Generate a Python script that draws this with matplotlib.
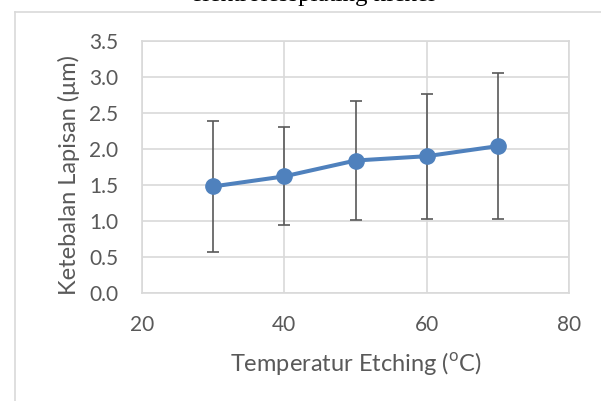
import numpy as np
import matplotlib
matplotlib.use("Agg")
import matplotlib.pyplot as plt
from matplotlib.lines import Line2D

# data
temperatur = [30, 40, 50, 60, 70]
ketebalan = [1.48, 1.62, 1.84, 1.90, 2.04]
std_dev = [0.91, 0.68, 0.82, 0.87, 1.01]
x_ticks = [20, 40, 60, 80]
y_ticks = [0.0, 0.5, 1.0, 1.5, 2.0, 2.5, 3.0, 3.5]

plt.rcParams['font.family'] = ['Lato', 'DejaVu Sans']
plt.rcParams['mathtext.fontset'] = 'custom'
plt.rcParams['mathtext.rm'] = 'Lato'

fig = plt.figure(figsize=(6.01, 4.01), dpi=100)

# outer chart frame (light gray), cut at right and bottom
fig.add_artist(Line2D([14.5 / 601, 14.5 / 601], [0, 1 - 11.5 / 401],
                      transform=fig.transFigure, color='#d9d9d9', lw=1.2))
fig.add_artist(Line2D([14.5 / 601, 1], [1 - 11.5 / 401, 1 - 11.5 / 401],
                      transform=fig.transFigure, color='#d9d9d9', lw=1.2))

# title, mostly cut off at the top edge like in the source image
fig.text(313 / 601, 1 - 1.5 / 401, 'elektrolessplating nickel',
         family='Liberation Serif', fontsize=18, ha='center', va='baseline',
         color='black')

ax = fig.add_axes([142 / 601, 1 - 293 / 401, 427 / 601, 252 / 401])

ax.errorbar(temperatur, ketebalan, yerr=std_dev, fmt='none',
            ecolor='#595959', elinewidth=1.2, capsize=4.5, capthick=1.2, zorder=2)
ax.plot(temperatur, ketebalan, color='#4f81bd', lw=2.9, marker='o',
        markersize=11, zorder=3)

ax.set_xlim(20, 80)
ax.set_ylim(0, 3.5)
ax.set_xticks(x_ticks)
ax.set_yticks(y_ticks)
ax.set_yticklabels(['{:.1f}'.format(v) for v in y_ticks])
ax.grid(True, color='#d9d9d9', lw=1.2)
ax.set_axisbelow(True)
for sp in ax.spines.values():
    sp.set_color('#d9d9d9')
    sp.set_linewidth(1.2)
ax.tick_params(length=0, labelsize=15, labelcolor='#595959')
ax.tick_params(axis='x', pad=16)
ax.tick_params(axis='y', pad=17)

ax.set_xlabel(r'Temperatur Etching ($^{\mathrm{o}}$C)', fontsize=17, color='#595959')
ax.set_ylabel('Ketebalan Lapisan (μm)', fontsize=17, color='#595959')
ax.xaxis.set_label_coords(0.5, -0.278)
ax.yaxis.set_label_coords(-0.172, 0.468)
ax.xaxis.label.set_va('center')
ax.yaxis.label.set_va('center')

fig.savefig('out.png', dpi=100)
